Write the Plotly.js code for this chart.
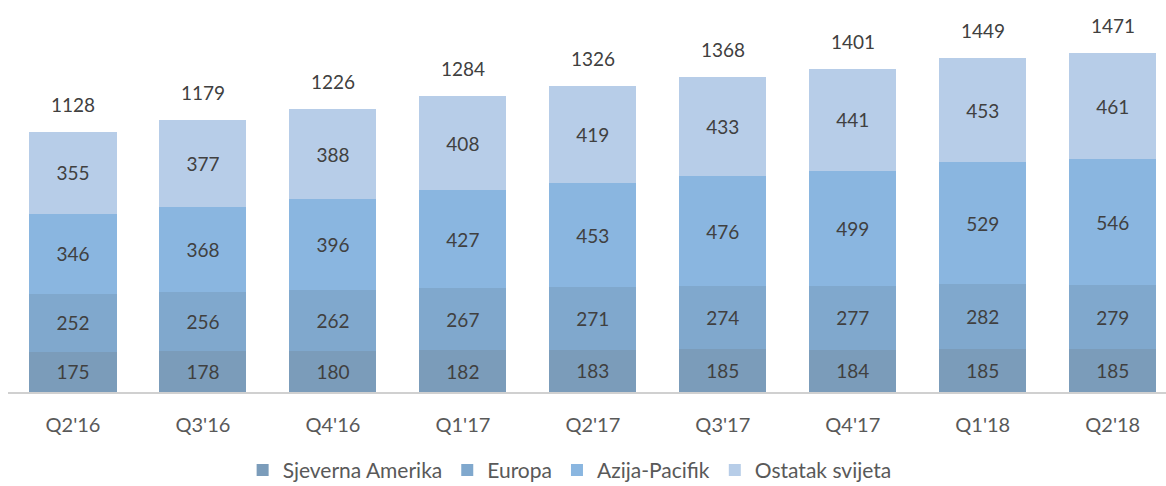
<!DOCTYPE html>
<html>
<head>
<meta charset="utf-8">
<script src="https://cdn.plot.ly/plotly-3.0.1.min.js"></script>
<style>html,body{margin:0;padding:0;background:#fff;}#chart{width:1166px;height:486px;}</style>
</head>
<body>
<div id="chart"></div>
<script>
const categories = ["Q2'16","Q3'16","Q4'16","Q1'17","Q2'17","Q3'17","Q4'17","Q1'18","Q2'18"];
const sjevernaAmerika = [175,178,180,182,183,185,184,185,185];
const europa = [252,256,262,267,271,274,277,282,279];
const azijaPacifik = [346,368,396,427,453,476,499,529,546];
const ostatakSvijeta = [355,377,388,408,419,433,441,453,461];
const totals = [1128,1179,1226,1284,1326,1368,1401,1449,1471];

const seriesNames = ["Sjeverna Amerika","Europa","Azija-Pacifik","Ostatak svijeta"];
const seriesData = [sjevernaAmerika, europa, azijaPacifik, ostatakSvijeta];
const colors = ["#7b9cba","#80a8cd","#8ab6e0","#b7cde8"];
const fontFam = "Lato, 'Open Sans', sans-serif";

const traces = seriesData.map((vals, i) => ({
  type: 'bar',
  name: seriesNames[i],
  x: categories,
  y: vals,
  text: vals.map(String),
  textposition: 'inside',
  insidetextanchor: 'middle',
  textangle: 0,
  textfont: {family: fontFam, size: 19, color: '#404040'},
  marker: {color: colors[i], line: {width: 0}},
  width: 0.67,
  hoverinfo: 'none'
}));

const annotations = categories.map((c, i) => ({
  x: c, y: totals[i], xref: 'x', yref: 'y',
  text: String(totals[i]), showarrow: false,
  yanchor: 'bottom', yshift: 14,
  font: {family: fontFam, size: 19, color: '#404040'}
}));

const layout = {
  width: 1166, height: 486,
  margin: {l: 8, r: 0, t: 10, b: 94, autoexpand: false},
  barmode: 'stack',
  bargap: 0.33,
  showlegend: true,
  legend: {
    orientation: 'h', x: 0.485, xanchor: 'center', y: -0.205, yanchor: 'middle',
    font: {family: fontFam, size: 21, color: '#595959'},
    itemwidth: 30, tracegroupgap: 0, traceorder: 'normal'
  },
  xaxis: {
    type: 'category',
    range: [-0.5, 8.41],
    showgrid: false, zeroline: false, automargin: false,
    showline: true, linecolor: '#d0d0d0', linewidth: 1.5,
    ticks: 'outside', ticklen: 14, tickcolor: 'rgba(0,0,0,0)',
    tickfont: {family: fontFam, size: 20, color: '#595959'},
    fixedrange: true
  },
  yaxis: {
    range: [0, 1657], visible: false, showgrid: false, zeroline: false, fixedrange: true
  },
  annotations: annotations,
  paper_bgcolor: '#ffffff', plot_bgcolor: '#ffffff'
};

Plotly.newPlot('chart', traces, layout, {displayModeBar: false, staticPlot: true});
</script>
</body>
</html>
